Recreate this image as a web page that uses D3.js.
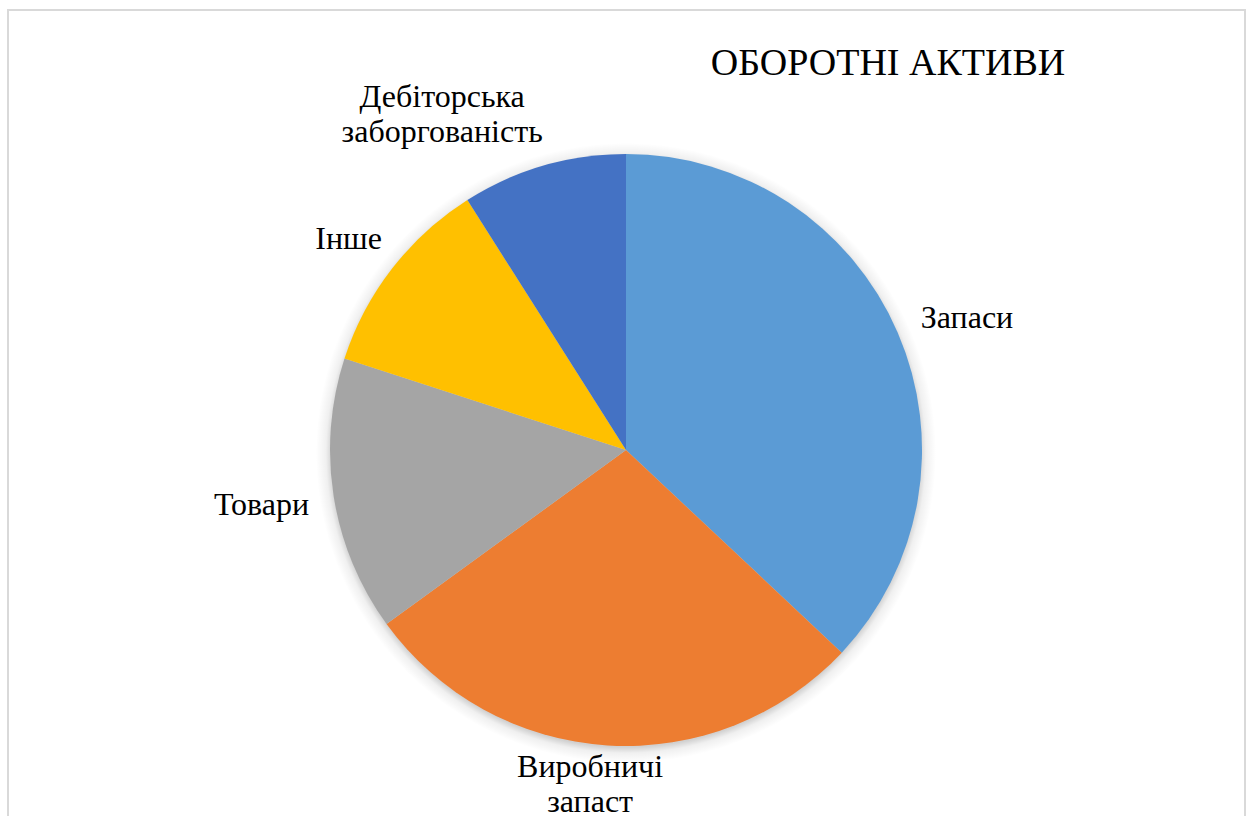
<!DOCTYPE html>
<html>
<head>
<meta charset="utf-8">
<script src="https://cdn.jsdelivr.net/npm/d3@7"></script>
</head>
<body style="margin:0">
<div id="chartdiv"></div>
<script>
// Data
const categories = ["Запаси", "Виробничі запаст", "Товари", "Інше", "Дебіторська заборгованість"];
const labelLines = [["Запаси"], ["Виробничі", "запаст"], ["Товари"], ["Інше"], ["Дебіторська", "заборгованість"]];
const values = [37, 28, 15, 11, 9];
const colors = ["#5B9BD5", "#ED7D31", "#A5A5A5", "#FFC000", "#4472C4"];
const title = "ОБОРОТНІ АКТИВИ";

// Layout
let width = 1248;
let height = 816;
let cx = 626;
let cy = 450;
let radius = 296;
let shadowRadius = 310;
let labelRadius = 365;
let lineHeight = 35;
// small per-label nudges, like Excel's best-fit placement
let labelNudge = [[6, 12], [-13, -31], [-4, -3], [11, 12], [-82, 14]];

var svg = d3.select('#chartdiv').append('svg')
  .attr('width', width)
  .attr('height', height)
  .attr('font-family', 'Liberation Serif');

svg.append('rect')
  .attr('width', width)
  .attr('height', height)
  .attr('fill', '#fff');

// chart area border
svg.append('rect')
  .attr('x', 8)
  .attr('y', 10)
  .attr('width', 1237)
  .attr('height', 830)
  .attr('fill', 'none')
  .attr('stroke', '#d9d9d9')
  .attr('stroke-width', 2);

// soft shadow ring around the pie (radial gradient, no filter)
let defs = svg.append('defs');
let grad = defs.append('radialGradient')
  .attr('id', 'pieShadow')
  .attr('gradientUnits', 'userSpaceOnUse')
  .attr('cx', 0).attr('cy', 3)
  .attr('r', shadowRadius);
grad.append('stop').attr('offset', 0).attr('stop-color', '#000').attr('stop-opacity', 0.18);
grad.append('stop').attr('offset', (radius - 2) / shadowRadius).attr('stop-color', '#000').attr('stop-opacity', 0.18);
grad.append('stop').attr('offset', (radius + 4) / shadowRadius).attr('stop-color', '#000').attr('stop-opacity', 0.06);
grad.append('stop').attr('offset', 1).attr('stop-color', '#000').attr('stop-opacity', 0);

let pie = d3.pie()
  .sort(null)
  .value(function (d) { return d; });
let arcs = pie(values);

let arc = d3.arc()
  .innerRadius(0)
  .outerRadius(radius);
let labelArc = d3.arc()
  .innerRadius(labelRadius)
  .outerRadius(labelRadius);

let pieGroup = svg.append('g')
  .attr('transform', `translate(${cx}, ${cy})`);

pieGroup.append('circle')
  .attr('cx', 0)
  .attr('cy', 3)
  .attr('r', shadowRadius)
  .attr('fill', 'url(#pieShadow)');

pieGroup.selectAll('path')
  .data(arcs)
  .enter()
  .append('path')
  .attr('d', arc)
  .attr('fill', function (d, i) { return colors[i]; });

svg.append('text')
  .attr('x', 888)
  .attr('y', 75)
  .style('font-family', 'Liberation Serif')
  .style('font-size', '38px')
  .style('text-anchor', 'middle')
  .text(title);

let labelGroup = svg.append('g')
  .attr('transform', `translate(${cx}, ${cy})`);

labelGroup.selectAll('text')
  .data(arcs)
  .enter()
  .append('text')
  .style('font-family', 'Liberation Serif')
  .style('font-size', '32px')
  .style('text-anchor', 'middle')
  .each(function (d, i) {
    let c = labelArc.centroid(d);
    let x = c[0] + labelNudge[i][0];
    let y = c[1] + labelNudge[i][1];
    let lines = labelLines[i];
    let startY = y - (lines.length - 1) * lineHeight / 2 + 11;
    d3.select(this).selectAll('tspan')
      .data(lines)
      .enter()
      .append('tspan')
      .attr('x', x)
      .attr('y', function (l, j) { return startY + j * lineHeight; })
      .text(function (l) { return l; });
  });
</script>
</body>
</html>
